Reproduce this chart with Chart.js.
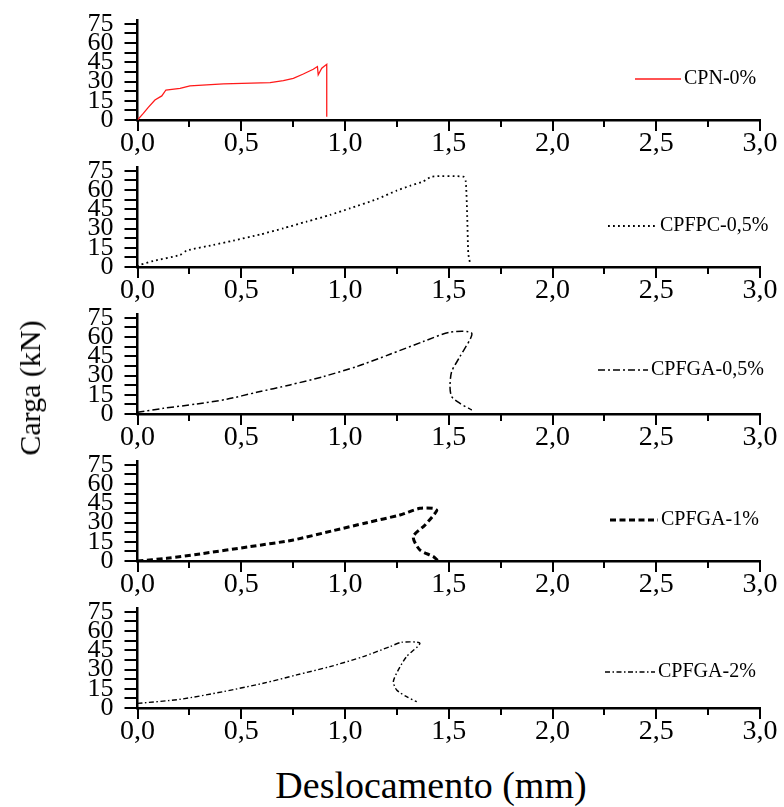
<!DOCTYPE html>
<html>
<head>
<meta charset="utf-8">
<script src="https://cdn.jsdelivr.net/npm/chart.js@4.4.1/dist/chart.umd.min.js"></script>
<style>
  body { margin: 0; background: #fff; }
  #wrap { position: relative; width: 784px; height: 807px; overflow: hidden; font-family: 'Liberation Serif', serif; }
  .panel { position: absolute; left: 0; width: 784px; height: 160px; }
  #ytitle { position: absolute; left: 30px; top: 388px; font-size: 30px; transform: translate(-50%, -50%) rotate(-90deg); white-space: nowrap; }
  #xtitle { position: absolute; left: 431px; top: 785px; font-size: 38px; transform: translate(-50%, -50%); white-space: nowrap; }
</style>
</head>
<body>
<div id="wrap">
  <div class="panel" style="top:0px"><canvas id="c0" width="784" height="160"></canvas></div>
  <div class="panel" style="top:147px"><canvas id="c1" width="784" height="160"></canvas></div>
  <div class="panel" style="top:294px"><canvas id="c2" width="784" height="160"></canvas></div>
  <div class="panel" style="top:441px"><canvas id="c3" width="784" height="160"></canvas></div>
  <div class="panel" style="top:588px"><canvas id="c4" width="784" height="160"></canvas></div>
  <div id="ytitle">Carga (kN)</div>
  <div id="xtitle">Deslocamento (mm)</div>
</div>
<script>
// data
const xTicks = [0, 0.5, 1.0, 1.5, 2.0, 2.5, 3.0];
const yTicks = [0, 15, 30, 45, 60, 75];

const cpnX = [0, 0.028, 0.052, 0.084, 0.117, 0.137, 0.205, 0.253, 0.414, 0.639, 0.703, 0.751, 0.799, 0.847, 0.867, 0.871, 0.888, 0.912, 0.912];
const cpnY = [0, 5.2, 9.9, 15.6, 18.8, 23.4, 24.7, 26.6, 28.1, 29.2, 30.7, 32.5, 35.9, 39.6, 41.7, 35.2, 40.4, 43.5, 2.6];

const cpfpcX = [0, 0.012, 0.076, 0.205, 0.237, 0.365, 0.462, 0.590, 0.703, 0.815, 0.928, 1.024, 1.153, 1.249, 1.313, 1.377, 1.418, 1.570, 1.582, 1.589, 1.594, 1.602];
const cpfpcY = [0, 1.6, 4.7, 9.4, 12.8, 17.2, 20.6, 25.3, 30.2, 35.4, 40.6, 45.8, 52.9, 59.6, 63.3, 66.7, 70.5, 70.5, 66.7, 39.3, 10.7, 3.4];

const cpfga05X = [0, 0.124, 0.285, 0.430, 0.574, 0.735, 0.896, 1.056, 1.217, 1.377, 1.506, 1.611, 1.554, 1.514, 1.506, 1.514, 1.554, 1.611];
const cpfga05Y = [1.3, 4.4, 7.8, 11.5, 16.9, 22.7, 29.2, 37.0, 46.6, 56.5, 63.8, 63.0, 44.8, 33.1, 21.4, 13.5, 8.3, 3.1];

const cpfga1X = [0, 0.141, 0.301, 0.542, 0.751, 0.944, 1.105, 1.265, 1.361, 1.426, 1.442, 1.386, 1.329, 1.361, 1.426, 1.450];
const cpfga1Y = [0, 2.1, 5.5, 11.2, 16.4, 23.7, 29.9, 35.9, 41.1, 41.1, 39.3, 28.1, 19.0, 8.6, 3.4, 0];

const cpfga2X = [0, 0.205, 0.414, 0.606, 0.767, 0.928, 1.088, 1.217, 1.273, 1.361, 1.297, 1.257, 1.233, 1.249, 1.297, 1.346];
const cpfga2Y = [3.6, 6.8, 12.8, 19.3, 25.8, 32.3, 40.1, 47.9, 51.3, 50.5, 40.1, 29.7, 20.5, 14.1, 8.8, 4.9];

const zip = (xs, ys) => xs.map((x, i) => ({ x, y: ys[i] }));

const panels = [
    { id: 'c0', label: 'CPN-0%', data: zip(cpnX, cpnY), color: '#ff1a1a', width: 1.3, dash: [], tension: 0,
      leg: { x1: 635, x2: 681, y: 79 } },
    { id: 'c1', label: 'CPFPC-0,5%', data: zip(cpfpcX, cpfpcY), color: '#000', width: 1.8, dash: [1.8, 3.2], tension: 0.2,
      leg: { x1: 608, x2: 657, y: 79 } },
    { id: 'c2', label: 'CPFGA-0,5%', data: zip(cpfga05X, cpfga05Y), color: '#000', width: 1.5, dash: [7, 3, 2, 3], tension: 0.25,
      leg: { x1: 598, x2: 648, y: 76 } },
    { id: 'c3', label: 'CPFGA-1%', data: zip(cpfga1X, cpfga1Y), color: '#000', width: 3, dash: [6, 3.5], tension: 0.25,
      leg: { x1: 610, x2: 658, y: 79 } },
    { id: 'c4', label: 'CPFGA-2%', data: zip(cpfga2X, cpfga2Y), color: '#000', width: 1.4, dash: [5, 2.5, 1.5, 2.5], tension: 0.25,
      leg: { x1: 605, x2: 655, y: 84 } }
];

// ticks (major + minor) and the small legend at the right
const panelDecor = {
    id: 'panelDecor',
    afterDraw(chart, args, opts) {
        const ctx = chart.ctx;
        const xs = chart.scales.x, ys = chart.scales.y;
        const bottom = chart.chartArea.bottom, left = chart.chartArea.left;
        ctx.save();
        ctx.strokeStyle = '#000';
        ctx.lineWidth = 2;
        for (let v = 0; v <= 3.0001; v += 0.25) {
            const px = Math.round(xs.getPixelForValue(v));
            const major = Math.abs(v * 2 - Math.round(v * 2)) < 1e-6;
            ctx.beginPath();
            ctx.moveTo(px, bottom);
            ctx.lineTo(px, bottom + (major ? 11 : 7));
            ctx.stroke();
        }
        for (let v = 0; v <= 75.001; v += 7.5) {
            const py = Math.round(ys.getPixelForValue(v));
            ctx.beginPath();
            ctx.moveTo(left, py);
            ctx.lineTo(left - 13, py);
            ctx.stroke();
        }
        // legend sample
        const p = opts.p;
        ctx.strokeStyle = p.color;
        ctx.lineWidth = p.width;
        ctx.setLineDash(p.dash);
        ctx.beginPath();
        ctx.moveTo(p.leg.x1, p.leg.y);
        ctx.lineTo(p.leg.x2, p.leg.y);
        ctx.stroke();
        ctx.setLineDash([]);
        ctx.fillStyle = '#000';
        ctx.font = '20px "Liberation Serif"';
        ctx.textBaseline = 'middle';
        ctx.fillText(p.label, p.leg.x2 + 3, p.leg.y);
        ctx.restore();
    }
};

function buildPanel(p) {
    const ctx = document.getElementById(p.id).getContext('2d');
    new Chart(ctx, {
        type: 'line',
        data: {
            datasets: [{
                label: p.label,
                data: p.data,
                borderColor: p.color,
                borderWidth: p.width,
                borderDash: p.dash,
                pointRadius: 0,
                tension: p.tension,
                fill: false
            }]
        },
        options: {
            responsive: false,
            animation: false,
            layout: { padding: { top: 20, right: 24, left: 0, bottom: 0 } },
            plugins: {
                legend: { display: false },
                tooltip: { enabled: false },
                panelDecor: { p }
            },
            scales: {
                x: {
                    type: 'linear',
                    min: 0,
                    max: 3,
                    afterFit: s => { s.height = 40; s.paddingLeft = 0; s.paddingRight = 0; },
                    afterBuildTicks: s => { s.ticks = xTicks.map(v => ({ value: v })); },
                    grid: { display: false },
                    border: { display: true, color: '#000', width: 2.5 },
                    ticks: {
                        padding: -1,
                        maxRotation: 0,
                        autoSkip: false,
                        color: '#000',
                        font: { family: 'Liberation Serif', size: 28 },
                        callback: v => v.toFixed(1).replace('.', ',')
                    }
                },
                y: {
                    min: 0,
                    max: 78,
                    afterFit: s => { s.width = 137.5; s.paddingTop = 0; s.paddingBottom = 0; },
                    afterBuildTicks: s => { s.ticks = yTicks.map(v => ({ value: v })); },
                    grid: { display: false },
                    border: { display: true, color: '#000', width: 2.5 },
                    ticks: {
                        padding: 16,
                        autoSkip: false,
                        color: '#000',
                        font: { family: 'Liberation Serif', size: 26 },
                        callback: v => String(v)
                    }
                }
            }
        },
        plugins: [panelDecor]
    });
}

panels.forEach(buildPanel);
</script>
</body>
</html>
